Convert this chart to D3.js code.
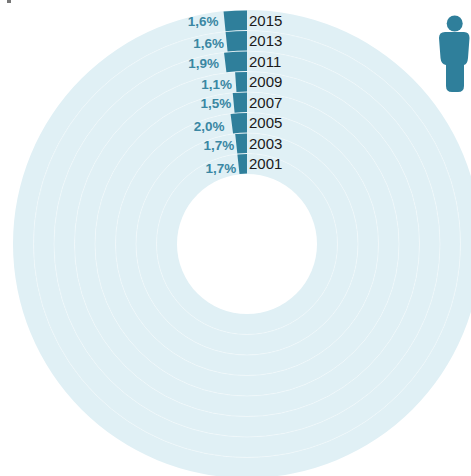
<!DOCTYPE html>
<html>
<head>
<meta charset="utf-8">
<script src="https://cdn.jsdelivr.net/npm/d3@7/dist/d3.min.js"></script>
<style>
html,body{margin:0;padding:0;background:#fff;overflow:hidden}
svg{display:block}
</style>
</head>
<body>
<svg id="chart" width="471" height="476"></svg>
<script>
// Data, outermost ring first
const years = ["2015","2013","2011","2009","2007","2005","2003","2001"];
const shares = [1.6,1.6,1.9,1.1,1.5,2.0,1.7,1.7];
const shareLabels = ["1,6%","1,6%","1,9%","1,1%","1,5%","2,0%","1,7%","1,7%"];

// Layout
const W = 471, H = 476, cx = 247, cy = 244, innerR = 70, outerR = 234;
const barColor = "#2f7f9b", ringColor = "#e0f0f5", labelColor = "#3a87a3";
const labelGapX = [5, 1.5, 5, 3, 1.5, 6, 1, 1];
const labelShiftY = [1, 2, 2, 2, 1, 3, 2, 4];

const svg = d3.select("#chart");
const g = svg.append("g").attr("transform", `translate(${cx},${cy})`);

const ring = d3.scaleBand().domain(years.slice().reverse()).range([innerR, outerR]);
const angle = d3.scaleLinear().domain([0, 100]).range([0, -2 * Math.PI]);
const arc = d3.arc();

// Background rings
g.selectAll("path.bg").data(years).join("path")
  .attr("class", "bg")
  .attr("fill", ringColor)
  .attr("d", y => arc({innerRadius: ring(y), outerRadius: ring(y) + ring.bandwidth(), startAngle: 0, endAngle: 2 * Math.PI}));

// Ring separators
g.selectAll("circle.sep").data(years.slice(0, -1)).join("circle")
  .attr("class", "sep")
  .attr("r", y => ring(y))
  .attr("fill", "none")
  .attr("stroke", "#ffffff")
  .attr("stroke-opacity", 0.35)
  .attr("stroke-width", 0.9);

// Share bars
g.selectAll("path.bar").data(years).join("path")
  .attr("class", "bar")
  .attr("fill", barColor)
  .attr("d", (y, i) => arc({innerRadius: ring(y) + 0.4, outerRadius: ring(y) + ring.bandwidth() - 0.4, startAngle: 0, endAngle: angle(shares[i])}));

// Year labels
const midY = y => -(ring(y) + ring.bandwidth() / 2);
g.selectAll("text.year").data(years).join("text")
  .attr("class", "year")
  .attr("x", 2)
  .attr("y", midY)
  .attr("dy", "0.36em")
  .attr("font-family", "Liberation Sans, Arial, sans-serif")
  .attr("font-size", 15)
  .attr("fill", "#1a1a1a")
  .text(y => y);

// Share labels
g.selectAll("text.share").data(years).join("text")
  .attr("class", "share")
  .attr("text-anchor", "end")
  .attr("x", (y, i) => (ring(y) + ring.bandwidth()) * Math.sin(angle(shares[i])) - labelGapX[i])
  .attr("y", (y, i) => midY(y) + labelShiftY[i])
  .attr("dy", "0.36em")
  .attr("font-family", "Liberation Sans, Arial, sans-serif")
  .attr("font-weight", "bold")
  .attr("font-size", 13.5)
  .attr("fill", labelColor)
  .text((y, i) => shareLabels[i]);

// Person icon
const icon = svg.append("g").attr("fill", barColor);
icon.append("circle").attr("cx", 454.7).attr("cy", 23.5).attr("r", 8);
icon.append("path").attr("d",
  "M445 32 L464 32 Q469.5 32 469.5 38 L468 58 Q467.5 64 464 65 L464 86 Q464 92 458 92 L452 92 Q446 92 446 86 L446 65 Q441 64 440.5 58 L439 38 Q439 32 445 32 Z");

// Cropped mark in the top-left corner
svg.append("rect").attr("x", 7).attr("y", 0).attr("width", 4).attr("height", 3).attr("fill", "#777");
</script>
</body>
</html>
